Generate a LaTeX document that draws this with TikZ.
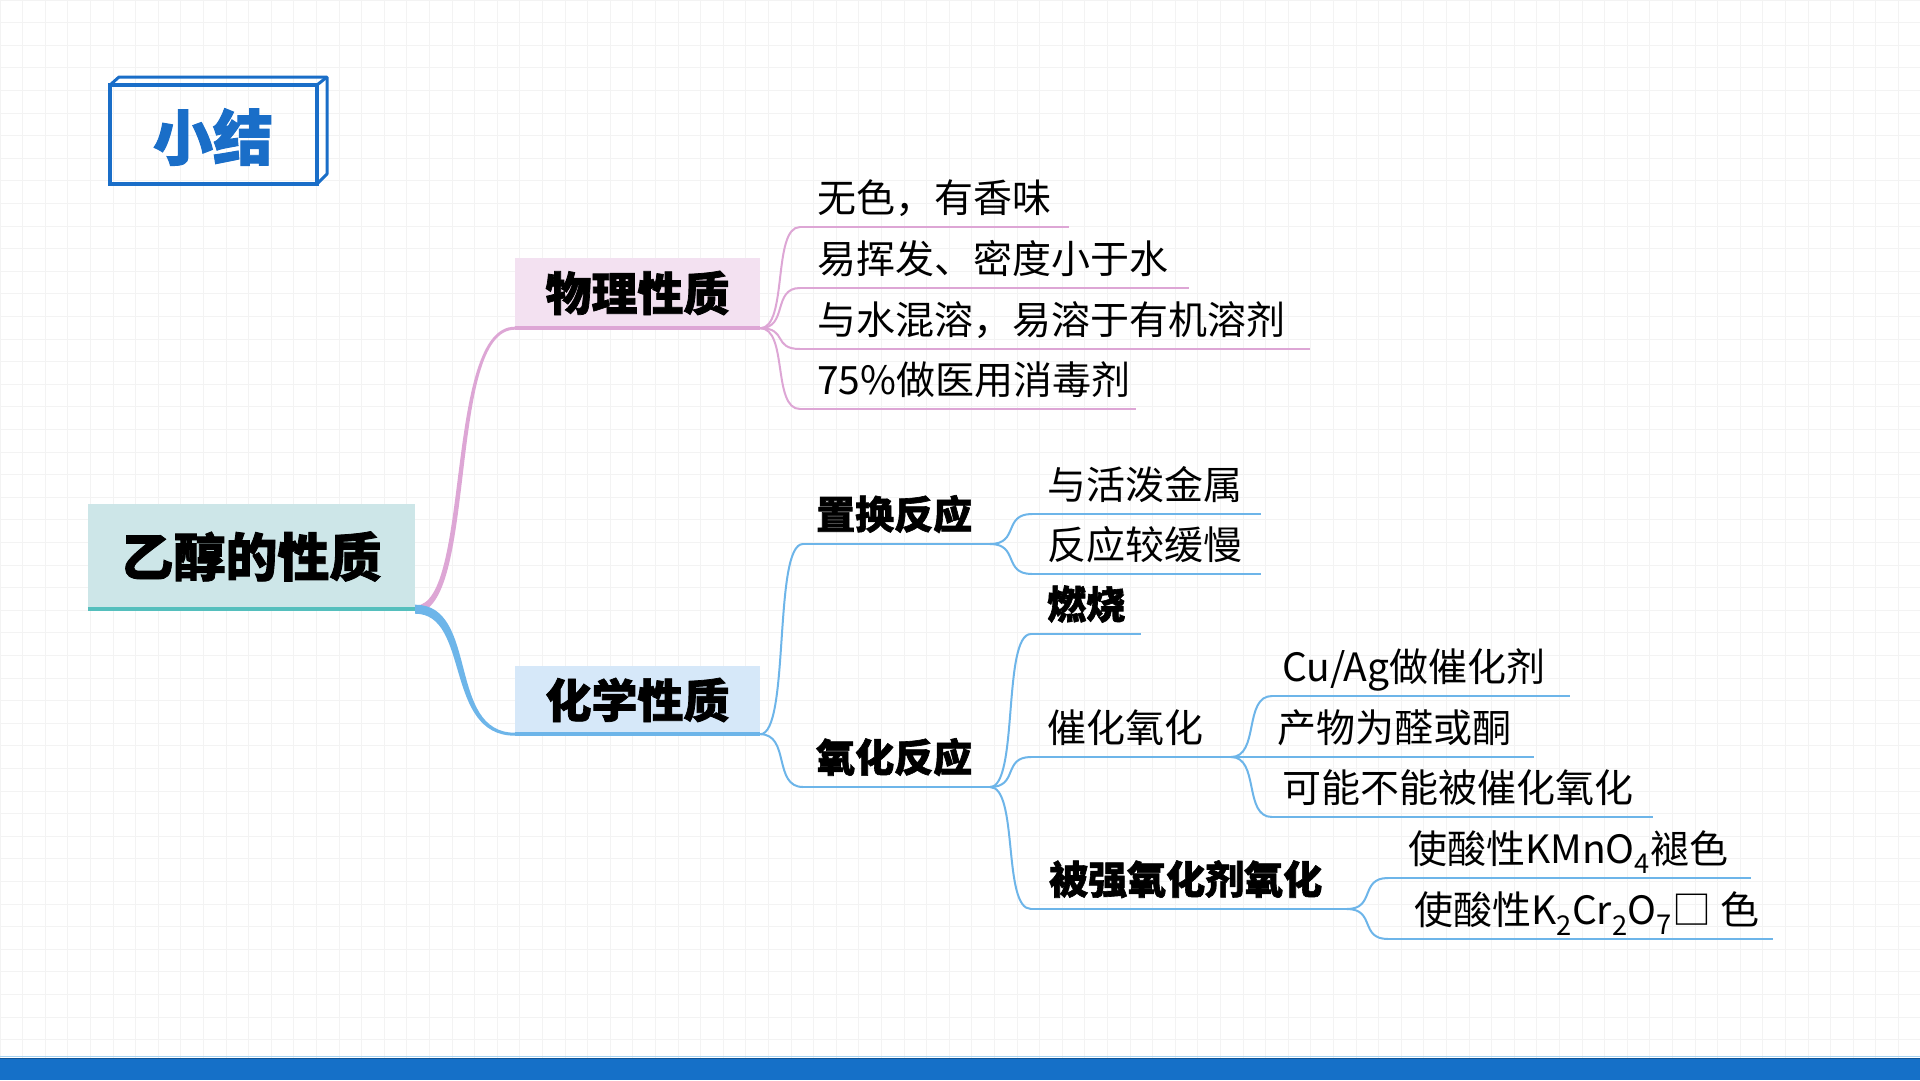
\documentclass[tikz,border=0pt]{standalone}
\usepackage{fontspec}
\setmainfont{Noto Sans CJK SC}[BoldFeatures={FakeBold=1.6}]
\usetikzlibrary{calc}
\definecolor{pinkl}{HTML}{DDA6D5}
\definecolor{pinkf}{HTML}{F3E1F1}
\definecolor{bluel}{HTML}{6DB5E9}
\definecolor{bluef}{HTML}{D6E8F9}
\definecolor{tealf}{HTML}{CDE6E8}
\definecolor{teall}{HTML}{55BFBD}
\definecolor{titleblue}{HTML}{1A6EC8}
\definecolor{barblue}{HTML}{1570C8}
\definecolor{gridc}{HTML}{F3F3F3}
\tikzset{
  pinkline/.style={draw=pinkl, line width=2},
  blueline/.style={draw=bluel, line width=2},
  leaftext/.style={anchor=base west, inner sep=0, font=\fontsize{39}{44}\selectfont, text=black},
  bigbox/.style={inner sep=0, font=\fontsize{46}{52}\selectfont\bfseries, text=black},
}
\newcommand\conn[3]{\draw[#1] let \p1=(#2), \p2=(#3), \n1={\x2-\x1} in
  (\p1) .. controls (\x1+0.7*\n1,\y1) and (\x1+0.3*\n1,\y2) .. (\p2);}
% #1 name #2 branch #3 curve end x #4 underline y #5 end x #6 text left #7 line style #8 text
\newcommand\leaf[8]{%
  \node[leaftext] (#1) at (#6,#4-15) {#8};
  \coordinate (#1-s) at (#3,#4);
  \coordinate (#1-e) at (#5,#4);
  \conn{#7}{#2}{#1-s}
  \draw[#7] (#1-s) -- (#1-e);
}
\begin{document}
\begin{tikzpicture}[x=1pt,y=-1pt]
\useasboundingbox (0,0) rectangle (1920,1080);
\fill[white] (0,0) rectangle (1920,1080);
% grid
\foreach \i in {0,...,85} { \draw[gridc, line width=1] (\i*22.6,0) -- (\i*22.6,1058); }
\foreach \j in {0,...,46} { \draw[gridc, line width=1] (0,\j*22.6) -- (1920,\j*22.6); }
% bottom bar
\fill[barblue] (0,1058) rectangle (1920,1080);
\draw[barblue!75!black, line width=1.5] (0,1058.5) -- (1920,1058.5);
\draw[bluel!60, line width=1] (0,1056.5) -- (1920,1056.5);
% title box
\draw[titleblue, line width=3, line join=round] (110,85) -- (119,77) -- (327,77) -- (327,174) -- (317,184);
\draw[titleblue, line width=3] (317,85) -- (327,77);
\draw[titleblue, line width=3.5] (110,85) rectangle (317,184);
\node[text=titleblue, font=\fontsize{60}{70}\selectfont\bfseries] (title) at (213,137) {小结};
% root
\node[fill=tealf, minimum width=327, minimum height=105, inner sep=0, font=\fontsize{52}{60}\selectfont\bfseries] (root) at (251.5,556.5) {乙醇的性质};
\draw[teall, line width=4] (root.south west) -- (root.south east);
% level 1
\node[bigbox, fill=pinkf, minimum width=245, minimum height=70] (phys) at (637.5,293) {物理性质};
\draw[pinkl, line width=4] (phys.south west) -- (phys.south east);
\node[bigbox, fill=bluef, minimum width=245, minimum height=68] (chem) at (637.5,700) {化学性质};
\draw[bluel, line width=4] (chem.south west) -- (chem.south east);
% tapered connectors
\fill[pinkl] let \p1=(root.south east), \p2=(phys.south west), \n1={\x2-\x1} in
  (\x1,\y1+3.5) .. controls (\x1+0.6*\n1-3.5,\y1+3.5) and (\x1+0.3*\n1-1.5,\y2+1.5) .. (\x2,\y2+1.5)
  -- (\x2,\y2-1.5) .. controls (\x1+0.3*\n1+1.5,\y2-1.5) and (\x1+0.6*\n1+3.5,\y1-3.5) .. (\x1,\y1-3.5) -- cycle;
\fill[bluel] let \p1=(root.south east), \p2=(chem.south west), \n1={\x2-\x1} in
  (\x1,\y1+4.5) .. controls (\x1+0.6*\n1+4.5,\y1+4.5) and (\x1+0.3*\n1+1.5,\y2+1.5) .. (\x2,\y2+1.5)
  -- (\x2,\y2-1.5) .. controls (\x1+0.3*\n1-1.5,\y2-1.5) and (\x1+0.6*\n1-4.5,\y1-4.5) .. (\x1,\y1-4.5) -- cycle;
% physical properties
\leaf{p1}{phys.south east}{800}{227}{1069}{817}{pinkline}{无色，有香味}
\leaf{p2}{phys.south east}{800}{288}{1189}{817}{pinkline}{易挥发、密度小于水}
\leaf{p3}{phys.south east}{800}{349}{1310}{817}{pinkline}{与水混溶，易溶于有机溶剂}
\leaf{p4}{phys.south east}{800}{409}{1136}{817}{pinkline}{75\%做医用消毒剂}
% chemical properties
\leaf{zh}{chem.south east}{803}{544}{990}{816}{blueline}{\bfseries 置换反应}
\leaf{zh1}{zh-e}{1032}{514}{1261}{1047}{blueline}{与活泼金属}
\leaf{zh2}{zh-e}{1032}{574}{1261}{1047}{blueline}{反应较缓慢}
\leaf{yh}{chem.south east}{803}{787}{990}{816}{blueline}{\bfseries 氧化反应}
\leaf{rs}{yh-e}{1031}{634}{1141}{1047}{blueline}{\bfseries 燃烧}
\leaf{ch}{yh-e}{1031}{757}{1231}{1047}{blueline}{催化氧化}
\leaf{qy}{yh-e}{1031}{909}{1347}{1049}{blueline}{\bfseries 被强氧化剂氧化}
\leaf{c1}{ch-e}{1272}{696}{1570}{1282}{blueline}{Cu/Ag做催化剂}
\leaf{c2}{ch-e}{1272}{757}{1534}{1277}{blueline}{产物为醛或酮}
\leaf{c3}{ch-e}{1272}{817}{1653}{1282}{blueline}{可能不能被催化氧化}
\leaf{q1}{qy-e}{1388}{878}{1751}{1408}{blueline}{使酸性KMnO\textsubscript{4}褪色}
\leaf{q2}{qy-e}{1388}{939}{1773}{1414}{blueline}{使酸性K\textsubscript{2}Cr\textsubscript{2}O\textsubscript{7}□ 色}
\end{tikzpicture}
\end{document}
